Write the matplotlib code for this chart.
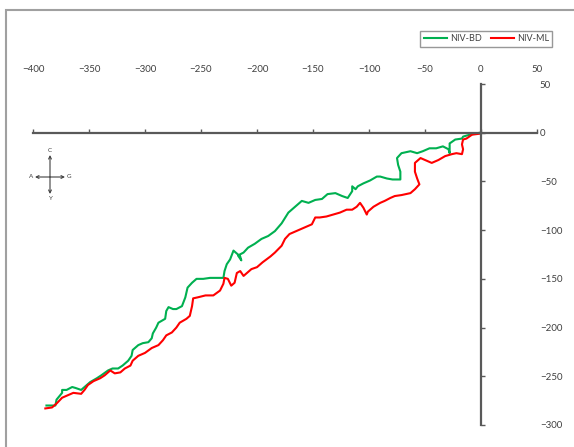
"""Recreate the NIV-BD / NIV-ML trajectory chart."""
import matplotlib
matplotlib.use("Agg")
import matplotlib.pyplot as plt
from matplotlib.patches import Rectangle

# NIV-BD trajectory (x, y)
bd_x = [-388, -380, -379, -374, -374, -370, -365, -362, -357, -354, -349, -343,
        -339, -333, -329, -324, -320, -315, -312, -311, -306, -302, -297, -294,
        -293, -290, -288, -285, -282, -281, -279, -275, -272, -267, -264, -262,
        -258, -254, -248, -242, -236, -230, -229, -227, -224, -221, -218, -215,
        -214, -217, -212, -208, -202, -196, -190, -184, -178, -172, -166, -160,
        -154, -148, -142, -137, -130, -124, -119, -115, -115, -112, -110, -105,
        -99, -93, -90, -84, -79, -72, -72, -74, -75, -71, -63, -57, -52, -46,
        -40, -34, -29, -28, -28, -23, -17, -16, -10, -1, 0]
bd_y = [-280, -280, -274, -267, -264, -264, -261, -262, -264, -261, -256, -252,
        -249, -244, -242, -242, -239, -234, -229, -223, -218, -216, -215, -211,
        -206, -200, -195, -193, -191, -183, -179, -181, -181, -178, -169, -159,
        -154, -150, -150, -149, -149, -149, -142, -135, -130, -121, -124, -127,
        -131, -126, -123, -118, -114, -109, -106, -101, -93, -82, -76, -70,
        -72, -69, -68, -63, -62, -65, -67, -60, -55, -58, -55, -52,
        -49, -45, -45, -47, -48, -48, -40, -33, -26, -21, -19, -21, -19, -16,
        -16, -14, -17, -21, -11, -7, -6, -4, -2, 0, 0]

# NIV-ML trajectory (x, y)
ml_x = [-389, -383, -379, -374, -370, -364, -357, -354, -351, -346, -340, -336,
        -331, -327, -322, -318, -313, -311, -306, -300, -294, -288, -284, -281,
        -276, -272, -269, -263, -260, -258, -257, -253, -246, -239, -233, -230,
        -229, -226, -223, -220, -218, -215, -212, -209, -205, -200, -195, -188,
        -184, -178, -175, -171, -165, -159, -151, -148, -144, -138, -132, -126,
        -120, -115, -111, -108, -105, -102, -101, -96, -90, -86, -81, -77,
        -71, -63, -59, -55, -57, -59, -59, -54, -50, -44, -38, -32, -26, -22,
        -17, -16, -17, -16, -13, -8, -1, 0]
ml_y = [-283, -282, -278, -272, -270, -267, -268, -264, -259, -255, -252, -249,
        -244, -247, -246, -242, -239, -234, -229, -226, -221, -218, -213, -208,
        -205, -200, -195, -191, -188, -178, -170, -169, -167, -167, -162, -155,
        -149, -150, -157, -154, -144, -142, -147, -144, -140, -138, -133, -127,
        -123, -116, -109, -104, -101, -98, -94, -87, -87, -86, -84, -82,
        -79, -79, -76, -72, -77, -84, -81, -76, -72, -70, -67, -65,
        -64, -62, -58, -53, -47, -40, -31, -26, -28, -31, -28, -24, -22, -21,
        -22, -17, -12, -7, -6, -2, -1, 0]

x_ticks = [-400, -350, -300, -250, -200, -150, -100, -50, 0, 50]
y_ticks = [-300, -250, -200, -150, -100, -50, 0, 50]

plt.rcParams["font.family"] = ["Lato", "DejaVu Sans"]
W, H = 574, 447
fig = plt.figure(figsize=(W / 100, H / 100), dpi=100)
ax = fig.add_axes([33 / W, 1 - 425 / H, 504 / W, 341 / H])

ax.plot(bd_x, bd_y, color="#00B050", lw=1.5, label="NIV-BD")
ax.plot(ml_x, ml_y, color="#FF0000", lw=1.5, label="NIV-ML")

ax.set_xlim(-400, 50)
ax.set_ylim(-300, 50)
ax.set_xticks(x_ticks)
ax.set_yticks(y_ticks)

axis_color = "#595959"
for side in ("top", "right"):
    ax.spines[side].set_visible(False)
for side in ("left", "bottom"):
    ax.spines[side].set_position(("data", 0))
    ax.spines[side].set_color(axis_color)
    ax.spines[side].set_linewidth(1.6)

ax.tick_params(axis="x", direction="in", length=3, width=1, color=axis_color,
               bottom=True, top=False, labelbottom=False, labeltop=True,
               pad=7, labelsize=7, labelcolor="#404040")
ax.tick_params(axis="y", direction="in", length=3, width=1, color=axis_color,
               left=True, right=False, labelleft=False, labelright=True,
               pad=2, labelsize=7, labelcolor="#404040")

leg = fig.legend(loc="upper right", bbox_to_anchor=(557 / W, 1 - 26 / H),
                 ncol=2, fontsize=6.5, frameon=True, fancybox=False,
                 handlelength=2.6, columnspacing=1.0, handletextpad=0.3,
                 borderpad=0.4)
leg.get_frame().set_edgecolor("#7f7f7f")
leg.get_frame().set_linewidth(1.0)
for t in leg.get_texts():
    t.set_color("#404040")

# compass rose
cx, cy = 50, H - 177
arrow = dict(arrowstyle="->", color="#404040", lw=0.8, shrinkA=0, shrinkB=0,
             mutation_scale=5)
for dx, dy in [(0, 22), (0, -17), (-15, 0), (15, 0)]:
    ax.annotate("", xy=(cx + dx, cy + dy), xytext=(cx, cy),
                xycoords="figure pixels", textcoords="figure pixels",
                arrowprops=arrow)
for dx, dy, s in [(0, 27, "C"), (0, -21, "Y"), (-19, 0, "A"), (19, 0, "G")]:
    fig.text((cx + dx) / W, (cy + dy) / H, s, fontsize=4.5, color="#404040",
             ha="center", va="center")

# outer chart frame
fig.patches.append(Rectangle((6 / W, -0.1), 1.2, 1 - 10 / H + 0.1,
                             transform=fig.transFigure, fill=False,
                             edgecolor="#a0a0a0", lw=1.5))

fig.savefig("out.png", dpi=100)
